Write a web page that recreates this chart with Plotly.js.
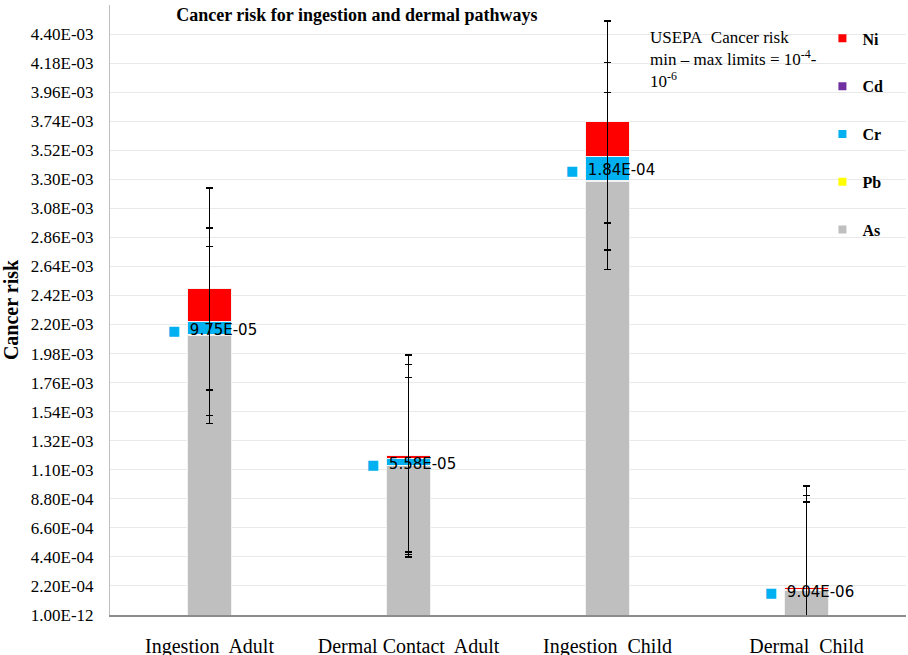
<!DOCTYPE html>
<html><head><meta charset="utf-8">
<script src="https://cdn.plot.ly/plotly-3.0.1.min.js"></script>
<style>html,body{margin:0;padding:0;background:#fff}#chart{width:908px;height:655px}</style>
</head><body><div id="chart"></div>
<script>
var categories = ["Ingestion\u00a0 Adult", "Dermal Contact\u00a0 Adult", "Ingestion\u00a0 Child", "Dermal\u00a0 Child"];
var As = [2.12e-3, 1.13e-3, 3.287e-3, 1.86e-4];
var Pb = [2.0e-6, 1.0e-7, 3.5e-6, 2.0e-8];
var Cr = [9.75e-5, 5.58e-5, 1.84e-4, 9.04e-6];
var Cd = [1.0e-6, 5.0e-8, 1.8e-6, 1.0e-8];
var Ni = [2.50e-4, 2.0e-5, 2.58e-4, 1.6e-5];
var errAs = 6.7e-4, errCr = 7.1e-4, errNi = 7.65e-4;
var crLabels = ["9.75E-05", "5.58E-05", "1.84E-04", "9.04E-06"];
var yTickVals = [1e-12, 2.2e-4, 4.4e-4, 6.6e-4, 8.8e-4, 1.10e-3, 1.32e-3, 1.54e-3, 1.76e-3, 1.98e-3, 2.20e-3, 2.42e-3, 2.64e-3, 2.86e-3, 3.08e-3, 3.30e-3, 3.52e-3, 3.74e-3, 3.96e-3, 4.18e-3, 4.40e-3];
var yTickText = ["1.00E-12", "2.20E-04", "4.40E-04", "6.60E-04", "8.80E-04", "1.10E-03", "1.32E-03", "1.54E-03", "1.76E-03", "1.98E-03", "2.20E-03", "2.42E-03", "2.64E-03", "2.86E-03", "3.08E-03", "3.30E-03", "3.52E-03", "3.74E-03", "3.96E-03", "4.18E-03", "4.40E-03"];

var colors = {As: "#bfbfbf", Pb: "#ffff00", Cr: "#00b0f0", Cd: "#7030a0", Ni: "#ff0000"};
var ranks = {Ni: 1, Cd: 2, Cr: 3, Pb: 4, As: 5};
function errObj(v, on) {
  return on ? {type: "constant", value: v, visible: true, color: "#000", thickness: 1.5, width: 3.5} : {visible: false};
}
function bar(name, vals, err) {
  return {type: "bar", name: name, x: categories, y: vals, showlegend: false,
    marker: {color: colors[name], line: {color: "#f2f2f2", width: 1}},
    error_y: errObj(err, !!err), hoverinfo: "y+name"};
}
var traces = [bar("As", As, errAs), bar("Pb", Pb, 0), bar("Cr", Cr, errCr), bar("Cd", Cd, 0), bar("Ni", Ni, errNi)];
["As", "Pb", "Cr", "Cd", "Ni"].forEach(function (n, i) {
  traces.push({type: "scatter", mode: "markers", name: n, x: [null], y: [null], legendgroup: "g" + n,
    legendrank: ranks[n], marker: {symbol: "square", size: 8, color: colors[n]}, showlegend: true});
});

var annotations = categories.map(function (c, i) {
  return {x: c, y: As[i] + Pb[i] + Cr[i] / 2, xref: "x", yref: "y", xanchor: "left", yanchor: "middle",
    xshift: -44, yshift: -2, showarrow: false,
    text: '<span style="color:#00b0f0;font-size:13px">\u25A0</span>\u00a0 ' + crLabels[i],
    font: {family: "DejaVu Sans", size: 15, color: "#000"}};
});
annotations.push({xref: "paper", yref: "paper", x: 0.676, y: 0.965, xanchor: "left", yanchor: "top", align: "left",
  showarrow: false, text: "USEPA\u00a0 Cancer risk<br>min \u2013 max limits = 10<sup>-4</sup>-<br>10<sup>-6</sup>",
  font: {family: "Liberation Serif", size: 17, color: "#000"}});

var layout = {
  width: 908, height: 655,
  margin: {l: 110, r: 2, t: 5, b: 40},
  paper_bgcolor: "#fff", plot_bgcolor: "#fff",
  barmode: "stack", bargap: 0.78,
  title: {text: "<b>Cancer risk for ingestion and dermal pathways</b>", x: 0.194, xanchor: "left", y: 0.978, yanchor: "middle",
    font: {family: "Liberation Serif", size: 18, color: "#000"}},
  xaxis: {type: "category", showgrid: false, showline: true, linecolor: "#8c8c8c", linewidth: 1.5,
    ticks: "outside", ticklen: 12, tickcolor: "rgba(0,0,0,0)",
    tickfont: {family: "Liberation Serif", size: 20, color: "#000"}},
  yaxis: {range: [0, 4.62e-3], tickvals: yTickVals, ticktext: yTickText, showgrid: true, gridcolor: "#e9e9e9",
    showline: true, linecolor: "#bfbfbf", linewidth: 1, zeroline: false,
    ticks: "outside", ticklen: 12, tickcolor: "rgba(0,0,0,0)",
    tickfont: {family: "Liberation Serif", size: 17, color: "#000"},
    title: {text: "<b>Cancer risk</b>", font: {family: "Liberation Serif", size: 20, color: "#000"}, standoff: 7}},
  legend: {x: 0.895, y: 0.973, xanchor: "left", yanchor: "top", traceorder: "grouped", tracegroupgap: 24,
    font: {family: "Liberation Serif", size: 16, color: "#000", weight: "bold"}, bgcolor: "rgba(0,0,0,0)", itemwidth: 30},
  annotations: annotations,
  showlegend: true
};
Plotly.newPlot("chart", traces, layout, {displayModeBar: false, staticPlot: true});
</script></body></html>
